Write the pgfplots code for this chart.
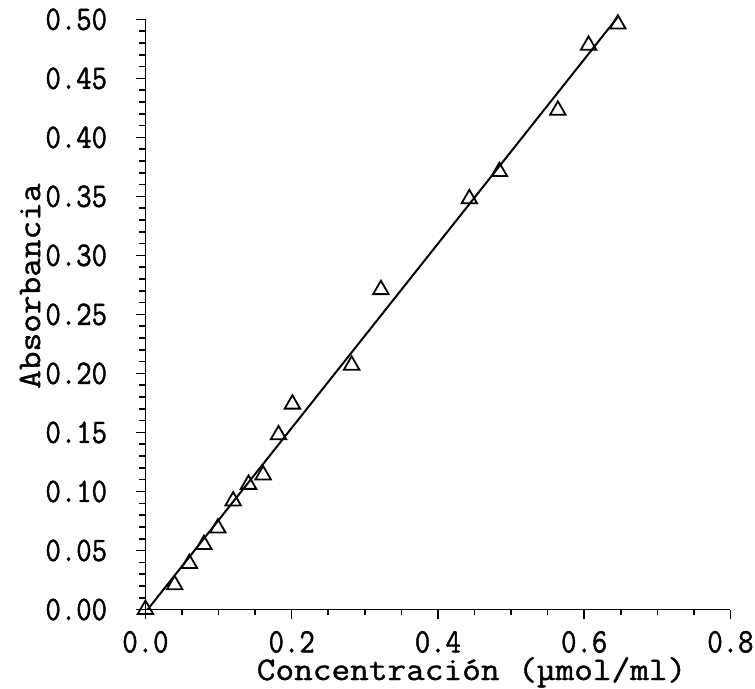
\documentclass[border=0pt]{standalone}
\usepackage{fontspec}
\usepackage{pgfplots}
\pgfplotsset{compat=1.18}
% printer-like monospaced serif: Latin Modern Mono, condensed for ticks, widened for labels
\newfontfamily\tickfont{lmmono12-regular.otf}[FakeStretch=0.87, FakeBold=1.3]
\newfontfamily\labelfont{lmmono12-regular.otf}[FakeStretch=1.1, FakeBold=1.2]

\begin{document}
\begin{tikzpicture}
\begin{axis}[
  scale only axis,
  width=294.6pt, height=297.2pt,
  xmin=0, xmax=0.8, ymin=0, ymax=0.5,
  axis lines=left,
  axis line style={-, line width=0.9pt},
  clip=false,
  xtick={0,0.2,...,0.8},
  ytick={0,0.05,...,0.5},
  minor x tick num=3,
  minor y tick num=4,
  tick align=outside,
  major tick length=4.8pt,
  minor tick length=3pt,
  every tick/.style={black, line width=0.8pt},
  /pgf/number format/assume math mode=true,
  tick label style={font=\fontsize{17.3}{18}\tickfont},
  xticklabel style={yshift=-2.5pt, /pgf/number format/.cd, fixed, fixed zerofill, precision=1},
  yticklabel style={xshift=-11pt, /pgf/number format/.cd, fixed, fixed zerofill, precision=2},
  label style={font=\fontsize{16.6}{18}\labelfont, inner sep=0pt},
  xlabel={Concentración (µmol/ml)},
  ylabel={Absorbancia},
  xlabel style={at={(axis description cs:0.5575,-0.080)}, anchor=north},
  ylabel style={at={(axis description cs:-0.216,0.548)}, anchor=north},
]
\addplot[only marks, mark=triangle, mark size=4.5pt, mark options={line width=0.9pt, fill=white}]
coordinates {
(0,0)
(0.040,0.021)
(0.060,0.039)
(0.080,0.055)
(0.099,0.069)
(0.120,0.092)
(0.141,0.106)
(0.161,0.114)
(0.182,0.148)
(0.201,0.174)
(0.282,0.207)
(0.322,0.271)
(0.443,0.348)
(0.484,0.371)
(0.564,0.423)
(0.606,0.478)
(0.646,0.496)
};
\addplot[black, line width=1pt] coordinates {(0.003,0.0) (0.646,0.502)};
% page margins as in the scanned reference
\coordinate (pagebl) at (axis description cs:-0.2486,-0.1346);
\coordinate (pagetr) at (axis description cs:1.042,1.0328);
\end{axis}
\pgfresetboundingbox
\path[use as bounding box] (pagebl) rectangle (pagetr);
\end{tikzpicture}
\end{document}
